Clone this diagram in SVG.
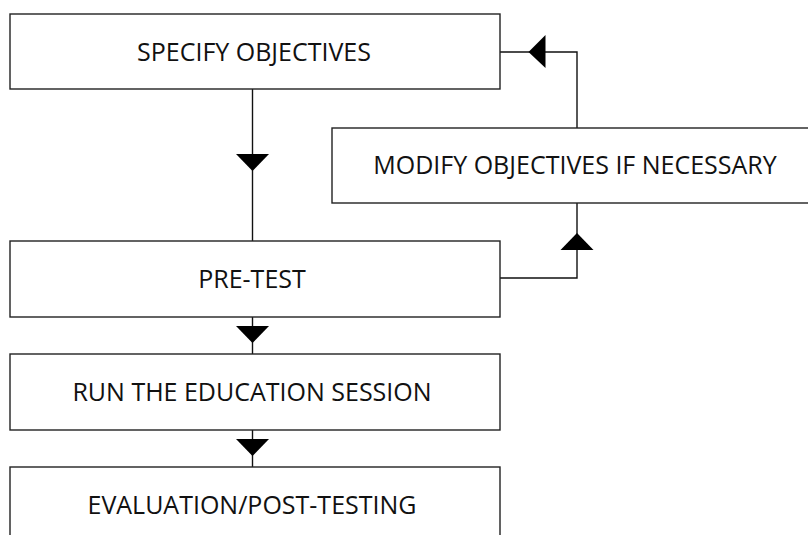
<svg xmlns="http://www.w3.org/2000/svg" width="808" height="535" viewBox="0 0 808 535">
<style>
.box{fill:#fff;stroke:#222;stroke-width:1.4}
.lbl{font-family:"Open Sans","Liberation Sans",sans-serif;font-size:25px;fill:#111;text-anchor:middle}
.ln{fill:none;stroke:#111;stroke-width:1.4}
.ah{fill:#000}
</style>
<rect width="808" height="535" fill="#fff"/>
<g id="connectors">
<line class="ln" x1="252.5" y1="89" x2="252.5" y2="241"/>
<polygon class="ah" points="236,154 269,154 252.5,171"/>
<line class="ln" x1="252.5" y1="317" x2="252.5" y2="354"/>
<polygon class="ah" points="236,326 269,326 252.5,343"/>
<line class="ln" x1="252.5" y1="430" x2="252.5" y2="467"/>
<polygon class="ah" points="236,439 269,439 252.5,456"/>
<polyline class="ln" points="577,128 577,52 500,52"/>
<polygon class="ah" points="528.5,52 545.5,35 545.5,68"/>
<polyline class="ln" points="500,278 577,278 577,203"/>
<polygon class="ah" points="577,233 560.5,250 593.5,250"/>
</g>
<g id="specify"><rect class="box" x="10" y="14" width="490" height="75"/><text class="lbl" x="254" y="61">SPECIFY OBJECTIVES</text></g>
<g id="modify"><rect class="box" x="332" y="128" width="490" height="75"/><text class="lbl" x="575" y="174">MODIFY OBJECTIVES IF NECESSARY</text></g>
<g id="pretest"><rect class="box" x="10" y="241" width="490" height="76"/><text class="lbl" x="252" y="288">PRE-TEST</text></g>
<g id="run"><rect class="box" x="10" y="354" width="490" height="76"/><text class="lbl" x="252" y="401">RUN THE EDUCATION SESSION</text></g>
<g id="eval"><rect class="box" x="10" y="467" width="490" height="76"/><text class="lbl" x="252" y="514">EVALUATION/POST-TESTING</text></g>
</svg>
